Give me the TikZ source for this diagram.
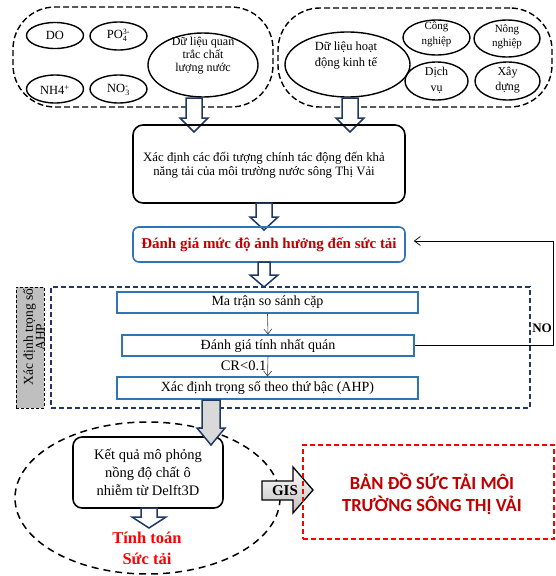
\documentclass[tikz,border=0pt]{standalone}
\usepackage{fontspec}
\setmainfont{Liberation Serif}
\newfontfamily\calib{Carlito}
\usetikzlibrary{shapes.geometric,arrows.meta}
\definecolor{navy}{HTML}{203864}
\definecolor{bblue}{HTML}{2E75B6}
\definecolor{dred}{HTML}{C00000}
\definecolor{lgrey}{HTML}{BFBFBF}
\definecolor{agrey}{HTML}{D9D9D9}
\newcommand{\fs}[2]{\fontsize{#1}{#2}\selectfont}
% #1 style, #2 x, #3 ytop, #4 yhead, #5 ytip, #6 shaft half, #7 head half
\newcommand{\blockdown}[7]{%
  \draw[#1] (#2-#6,#3) -- (#2-#6,#4) -- (#2-#7,#4) -- (#2,#5) -- (#2+#7,#4)
    -- (#2+#6,#4) -- (#2+#6,#3) -- cycle;}
\begin{document}
\begin{tikzpicture}[x=1pt,y=-1pt,
  grp/.style={draw, line width=1.4pt, dash pattern=on 6pt off 3pt, rounded corners=42pt, inner sep=0},
  ell/.style={draw, ellipse, line width=1.4pt, inner sep=0},
  txt/.style={align=center, inner sep=0},
  harrow/.style={draw=navy, fill=white, line width=1.5pt, line join=miter},
  ahpbox/.style={draw=bblue, line width=1.2pt, fill=white, inner sep=0, font=\fs{14}{16}},
  thin/.style={draw=black!75, line width=0.6pt, -{Straight Barb[length=5pt,width=8pt]}},
]
\useasboundingbox (0,0) rectangle (555,576);

% ---------- top groups ----------
\node[grp, minimum width=260, minimum height=100] (g1) at (143,57) {};
\node[grp, minimum width=274, minimum height=99] (g2) at (415,57.5) {};

\node[ell, minimum width=57, minimum height=26] (do) at (55,35.5) {};
\node[txt, font=\fs{12.5}{13}] at (55,35.5) {DO};
\node[ell, minimum width=57, minimum height=28] (po) at (118.5,36) {};
\node[txt, font=\fs{12.5}{13}] at (118.5,35.5) {PO$_{\mbox{\fs{8}{8}4}}^{\mbox{\fs{8}{8}3-}}$};
\node[ell, minimum width=57, minimum height=28] (nh) at (55,89) {};
\node[txt, font=\fs{12.5}{13}] at (55,90) {NH4\textsuperscript{+}};
\node[ell, minimum width=57, minimum height=28] (no) at (118.5,89) {};
\node[txt, font=\fs{12.5}{13}] at (118.5,90) {NO$_{\mbox{\fs{8}{8}3}}^{\mbox{\fs{8}{8}-}}$};
\node[ell, minimum width=110, minimum height=64] (wq) at (203,65) {};
\node[txt, font=\fs{12}{13}] at (203,56) {Dữ liệu quan\\trắc chất\\lượng nước};

\node[ell, minimum width=125, minimum height=65] (ec) at (347.5,64.5) {};
\node[txt, font=\fs{12.5}{16}] at (346,55) {Dữ liệu hoạt\\động kinh tế};
\node[ell, minimum width=67, minimum height=35] (cn) at (436.5,37.5) {};
\node[txt, font=\fs{11}{15}] at (436.5,34) {Công\\nghiệp};
\node[ell, minimum width=66, minimum height=37] (nn) at (507,38.5) {};
\node[txt, font=\fs{11}{14}] at (507,37) {Nông\\nghiệp};
\node[ell, minimum width=63, minimum height=38] (dv) at (436.5,81) {};
\node[txt, font=\fs{12}{16}] at (436.5,80) {Dịch\\vụ};
\node[ell, minimum width=65, minimum height=38] (xd) at (507.5,81) {};
\node[txt, font=\fs{12}{15}] at (507.5,80) {Xây\\dựng};

% block arrows to main box
\blockdown{harrow}{194}{98}{118}{132}{8}{14}
\blockdown{harrow}{350}{98}{118}{132}{8}{14}

% ---------- main box ----------
\node[draw, line width=1.6pt, rounded corners=10pt, minimum width=272, minimum height=78, inner sep=0] (mb) at (269,164) {};
\node[txt, font=\fs{12.8}{14.5}] at (264,165) {Xác định các đối tượng chính tác động đến khả\\năng tải của môi trường nước sông Thị Vải};

\blockdown{harrow}{264}{203}{217}{230}{8}{14}

% ---------- blue box ----------
\node[draw=bblue, line width=1.6pt, rounded corners=6pt, minimum width=272, minimum height=35, inner sep=0,
      text=dred, font=\fs{15}{16}\bfseries] (bb) at (269,244.5) {Đánh giá mức độ ảnh hưởng đến sức tải};

\blockdown{harrow}{264}{262}{275}{287}{6}{14}

% ---------- AHP ----------
\node[draw=navy, line width=1.5pt, dash pattern=on 5pt off 3pt, minimum width=479, minimum height=121, inner sep=0] (ahp) at (290.5,347.5) {};
\node[draw=black, fill=lgrey, line width=0.9pt, dash pattern=on 3pt off 2pt, minimum width=28, minimum height=121, inner sep=0] (lab) at (30,347.5) {};
\node[txt, rotate=90, font=\fs{13.5}{12}] at (34,337) {Xác định trọng số\\AHP};

\node[ahpbox, minimum width=301, minimum height=21] (m1) at (267.5,302.5) {Ma trận so sánh cặp};
\node[ahpbox, minimum width=292, minimum height=21] (m2) at (268,345.5) {Đánh giá tính nhất quán};
\node[ahpbox, minimum width=301, minimum height=22] (m3) at (267.5,388) {Xác định trọng số theo thứ bậc (AHP)};

\draw[thin] (m1.south) -- (m2.north);
\draw[thin] (m2.south) -- node[left, font=\fs{14.5}{16}, inner sep=1pt, yshift=1pt] {CR<0.1} (m3.north);

% NO loop
\coordinate (lc) at (553,241);
\draw[line width=0.7pt, -{Straight Barb[length=6pt,width=9pt]}] (m2.east) -| (lc) -- ([xshift=8pt]bb.east |- lc);
\node[font=\fs{13}{14}\bfseries, inner sep=0] (nolab) at (542,328) {NO};

% ---------- bottom ----------
\node[draw, ellipse, line width=1.5pt, dash pattern=on 7pt off 5pt, minimum width=265, minimum height=152, inner sep=0] (de) at (147.5,498) {};
\node[draw, line width=1.6pt, rounded corners=9pt, minimum width=150, minimum height=71, inner sep=0] (kq) at (148,472.5) {};
\node[txt, font=\fs{14.5}{18}] at (148,472) {Kết quả mô phỏng\\nồng độ chất ô\\nhiễm từ Delft3D};

% grey arrow from AHP to result
\draw[draw=navy, fill=agrey, line width=1.5pt, line join=miter]
  (202,400) -- (202,428) -- (197,428) -- (211,445) -- (225,428) -- (220,428) -- (220,400) -- cycle;

\blockdown{harrow}{149}{508}{517}{528}{8}{17}
\node[txt, text=red, font=\fs{16.5}{21}\bfseries] (tt) at (147,548.5) {Tính toán\\Sức tải};

% GIS arrow
\draw[draw=black, line width=1.3pt, line join=miter, top color=white, bottom color=black!25]
  (262,481) -- (293,481) -- (293,467) -- (313,490) -- (293,513) -- (293,500) -- (262,500) -- cycle;
\node[font=\fs{15}{16}\bfseries, inner sep=0] (gis) at (285,490.5) {GIS};

% red map box
\node[draw=red, line width=1.6pt, dash pattern=on 5pt off 3pt, minimum width=251, minimum height=94, inner sep=0] (rb) at (428.5,492) {};
\node[txt, text=dred, font=\calib\fs{18.5}{22}\bfseries] at (432,494) {BẢN ĐỒ SỨC TẢI MÔI\\TRƯỜNG SÔNG THỊ VẢI};
\end{tikzpicture}
\end{document}
